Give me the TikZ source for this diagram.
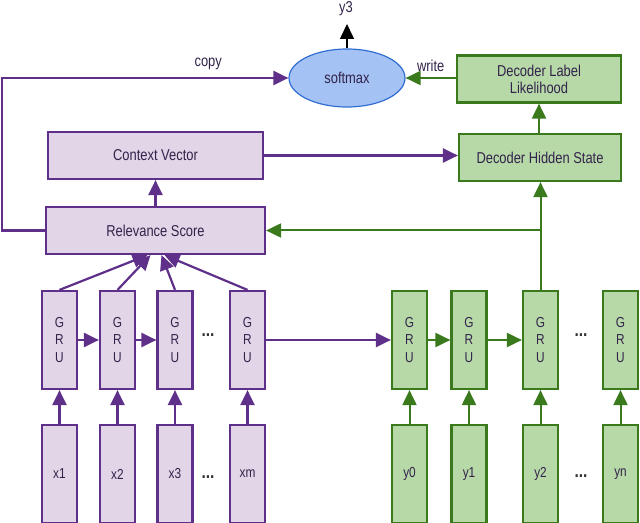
\documentclass[tikz,border=0pt]{standalone}
\usepackage{fontspec}
\setmainfont{Liberation Sans}[FakeStretch=0.82]
\usepackage{tikz}
\usetikzlibrary{arrows.meta,calc,positioning,shapes.geometric}
\definecolor{pdraw}{RGB}{94,48,138}
\definecolor{pfill}{RGB}{225,213,231}
\definecolor{gdraw}{RGB}{58,122,28}
\definecolor{gfill}{RGB}{183,217,168}
\definecolor{bdraw}{RGB}{50,110,210}
\definecolor{bfill}{RGB}{164,194,244}
\definecolor{txt}{RGB}{50,35,75}

\begin{document}
\begin{tikzpicture}[x=1bp,y=-1bp,
  font=\fontsize{15.8}{17}\selectfont, text=txt,
  >={Triangle[length=15bp,width=14bp]},
  pbox/.style={draw=pdraw,fill=pfill,line width=2.2bp,inner sep=0pt},
  gbox/.style={draw=gdraw,fill=gfill,line width=2.2bp,inner sep=0pt},
  gru/.style={minimum width=35bp,minimum height=98bp,align=center,
    font=\fontsize{14.5}{18}\selectfont},
  inp/.style={minimum width=35bp,minimum height=98bp,font=\fontsize{14.5}{16}\selectfont},
  wide/.style={minimum width=#1,minimum height=47bp,align=center},
  pline/.style={color=pdraw,line width=2.2bp},
  gline/.style={color=gdraw,line width=2bp},
  dots/.style={font=\bfseries\fontsize{19}{19}\selectfont,text=black!80}]
\useasboundingbox (0,0) rectangle (640,523);
% top part
\node[ellipse,draw=bdraw,fill=bfill,line width=1.2bp,minimum width=116bp,minimum height=58bp,inner sep=0pt] (SM) at (347,78) {softmax};
\node[gbox,wide=164bp] (DL) at (539,79) {Decoder Label\\Likelihood};
\node[gbox,wide=162bp] (DH) at (540,157.5) {Decoder Hidden State};
\node[pbox,wide=215bp] (CV) at (155.5,155.5) {Context Vector};
\node[pbox,wide=219bp] (RS) at (155.5,230.5) {Relevance Score};
\coordinate (Y3) at (347,24);
\node (Y3L) at (346,9) {y3};
% encoder
\node[pbox,gru] (E1) at (59.5,340) {G\\R\\U};
\node[pbox,gru] (E2) at (117.5,340) {G\\R\\U};
\node[pbox,gru] (E3) at (175,340) {G\\R\\U};
\node[pbox,gru] (E4) at (247.5,340) {G\\R\\U};
\node[pbox,inp] (X1) at (59.5,474) {x1};
\node[pbox,inp] (X2) at (117.5,474) {x2};
\node[pbox,inp] (X3) at (175,474) {x3};
\node[pbox,inp] (X4) at (247.5,474) {xm};
\node[dots] (EDT) at (208,335) {...};
\node[dots] (XDT) at (208,477) {...};
% decoder
\node[gbox,gru] (D0) at (409.5,340) {G\\R\\U};
\node[gbox,gru] (D1) at (469,340) {G\\R\\U};
\node[gbox,gru] (D2) at (540.5,340) {G\\R\\U};
\node[gbox,gru] (D3) at (620.5,340) {G\\R\\U};
\node[gbox,inp] (Y0) at (409.5,474) {y0};
\node[gbox,inp] (Y1) at (469,474) {y1};
\node[gbox,inp] (Y2) at (540.5,474) {y2};
\node[gbox,inp] (Y4) at (620.5,474) {yn};
\node[dots] (DDT) at (581,335) {...};
\node[dots] (YDT) at (581,476) {...};

\path[->,pline]
(X1) edge (E1)
(X2) edge (E2)
(X3) edge (E3)
(X4) edge (E4)
(E1) edge (E2)
(E2) edge (E3)
(E4) edge (D0)
(E1.north) edge ($(RS.south)+(-8,0)$)
(E2.north) edge ($(RS.south)+(-5,0)$)
(E3.north) edge ($(RS.south)+(6,0)$)
(E4.north) edge ($(RS.south)+(9,0)$)
(RS) edge (CV)
(CV.east) edge (CV.east -| DH.west);
\draw[->,pline] (RS.west) -- (2,230.5) -- (2,78) -- node[above=4bp,pos=0.72,text=txt] {copy} (SM.west);
\path[->,gline]
(Y0) edge (D0)
(Y1) edge (D1)
(Y2) edge (D2)
(Y4) edge (D3)
(D0) edge (D1)
(D1) edge (D2)
(D2.north) edge (DH.south -| D2.north)
(DH.north -| DL.south) edge (DL.south)
(DL.west |- SM.east) edge node[above=2bp,pos=0.5,text=txt] {write} (SM.east);
\draw[->,gline] (D2.north |- RS.east) -- (RS.east);
\draw[->,line width=1.6bp,black] (SM.north) -- (Y3);
\end{tikzpicture}
\end{document}
